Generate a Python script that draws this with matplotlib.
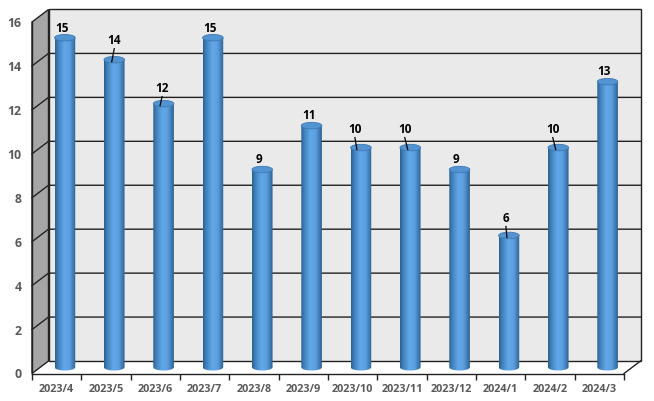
import numpy as np
import matplotlib.pyplot as plt
from matplotlib.colors import LinearSegmentedColormap
from matplotlib.patches import Ellipse, Polygon, PathPatch
from matplotlib.path import Path

months = ['2023/4', '2023/5', '2023/6', '2023/7', '2023/8', '2023/9',
          '2023/10', '2023/11', '2023/12', '2024/1', '2024/2', '2024/3']
counts = [15, 14, 12, 15, 9, 11, 10, 10, 9, 6, 10, 13]
y_ticks = [0, 2, 4, 6, 8, 10, 12, 14, 16]

W, H = 654, 401
LEFT, RIGHT, TOP, BOTTOM = 32, 624, 22, 373.5
PX = 12 / (RIGHT - LEFT)     # one pixel in data units
PY = 16 / (BOTTOM - TOP)
DEPTH_X = 16.5 * PX
DEPTH_Y = 12.5 * PY
LINE = '#222222'
GRAY = '#595959'

# label placement in pixels from the top of the bar, leader end (None = no leader)
label_dx = [-3, 0, -1.5, -3, -3, -3, -6, -5.5, -4, -3, -5.5, -4]
label_dy = [9, 19, 15, 9, 10, 10, 18, 18, 10, 17, 18, 10]
leader_end = [None, -2.5, -3.5, None, None, None, -4, -2.5, None, -2, -2.5, None]

plt.rcParams['font.family'] = ['Open Sans', 'DejaVu Sans']

fig = plt.figure(figsize=(W / 100, H / 100), dpi=100, facecolor='white')
ax = fig.add_axes([LEFT / W, 1 - BOTTOM / H, (RIGHT - LEFT) / W, (BOTTOM - TOP) / H])
ax.patch.set_visible(False)
for name in ['top', 'right']:
    ax.spines[name].set_visible(False)
for name in ['left', 'bottom']:
    ax.spines[name].set_color(LINE)
    ax.spines[name].set_linewidth(1.0)

# box walls
ymax = y_ticks[-1]
ax.add_patch(Polygon([(DEPTH_X, DEPTH_Y), (12 + DEPTH_X, DEPTH_Y), (12 + DEPTH_X, ymax + DEPTH_Y),
                      (DEPTH_X, ymax + DEPTH_Y)], closed=True, fc='#EAEAEA', ec=LINE, lw=1.0,
                     clip_on=False, zorder=1))
ax.add_patch(Polygon([(0, 0), (DEPTH_X, DEPTH_Y), (DEPTH_X, ymax + DEPTH_Y), (0, ymax)], closed=True,
                     fc='#A6A6A6', ec=LINE, lw=1.0, clip_on=False, zorder=1))
ax.plot([12, 12 + DEPTH_X], [0, DEPTH_Y], color=LINE, lw=1.0, clip_on=False, zorder=1)
for v in y_ticks[1:-1]:
    ax.plot([0, DEPTH_X, 12 + DEPTH_X], [v, v + DEPTH_Y, v + DEPTH_Y], color=LINE, lw=1.0,
            clip_on=False, zorder=1)

# ticks
ax.set_yticks(y_ticks)
ax.set_xticks(range(13))
ax.set_xticklabels([])
ax.set_xticks([i + 0.5 for i in range(12)], labels=months, minor=True)
ax.tick_params(axis='x', which='major', length=4, width=1, color=LINE)
ax.tick_params(axis='x', which='minor', length=0, pad=7.5, labelsize=7.8, labelcolor=GRAY)
ax.tick_params(axis='y', length=0, pad=7.5, labelsize=8.8, labelcolor=GRAY)
for t in ax.get_xticklabels(minor=True):
    t.set_fontweight('bold')
for t in ax.get_yticklabels():
    t.set_fontweight('bold')

# cylinders
cmap = LinearSegmentedColormap.from_list('cyl', [(0, '#2C5F8E'), (0.14, '#3F80BA'), (0.45, '#62A8EA'),
                                                 (0.7, '#5C9EDE'), (0.88, '#3F7CB4'), (1, '#2C5F8E')])
grad = np.linspace(0, 1, 64).reshape(1, -1)
half_w = 10.3 * PX
ell_h = 6.5 * PY
for i, v in enumerate(counts):
    cx = i + 0.5 + DEPTH_X / 2
    base = DEPTH_Y / 2
    top = v + base
    x0, x1 = cx - half_w, cx + half_w
    # outline: straight sides, round bottom
    t = np.linspace(np.pi, 2 * np.pi, 30)
    verts = [(x0, top)] + list(zip(cx + half_w * np.cos(t), base + ell_h / 2 * np.sin(t))) + [(x1, top)]
    clip = PathPatch(Path(verts + [verts[0]]), transform=ax.transData, fc='none', ec='none')
    ax.add_patch(clip)
    im = ax.imshow(grad, extent=[x0, x1, base - ell_h, top], cmap=cmap, aspect='auto', zorder=3)
    im.set_clip_path(clip)
    ax.add_patch(Ellipse((cx, top), 2 * half_w, ell_h, fc='#5293D2', ec='#3F78B0', lw=0.6, zorder=4,
                         clip_on=False))
    # value label and leader
    lx = cx + label_dx[i] * PX
    ly = top + label_dy[i] * PY
    ax.text(lx, ly, str(v), ha='center', va='center', fontsize=8.5, fontweight='bold', color='black',
            zorder=6, clip_on=False)
    if leader_end[i] is not None:
        ax.plot([lx, cx + leader_end[i] * PX], [ly - 8 * PY, top - 2 * PY], color='black', lw=0.9,
                zorder=5, clip_on=False)

ax.set_xlim(0, 12)
ax.set_ylim(0, 16)

fig.savefig('out.png', dpi=100)
plt.close(fig)
